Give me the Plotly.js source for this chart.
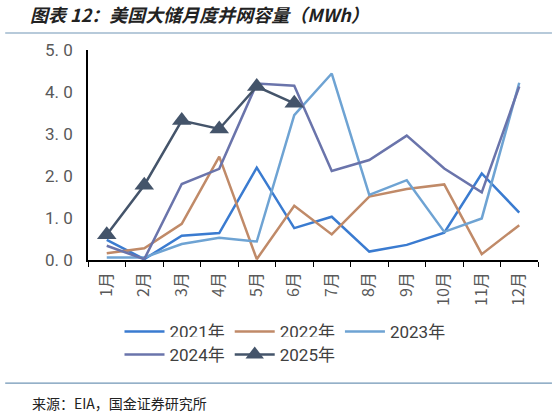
<!DOCTYPE html>
<html>
<head>
<meta charset="utf-8">
<script src="https://cdn.plot.ly/plotly-3.0.1.min.js"></script>
<style>
  body { margin: 0; background: #fff; }
  #chart { width: 555px; height: 415px; }
</style>
</head>
<body>
<div id="chart"></div>
<script>
var months = ['1月', '2月', '3月', '4月', '5月', '6月', '7月', '8月', '9月', '10月', '11月', '12月']
var yTicks = [0, 1, 2, 3, 4, 5]
var yTickText = ['0. 0', '1. 0', '2. 0', '3. 0', '4. 0', '5. 0']

var y2021 = [0.48, 0.02, 0.58, 0.64, 2.20, 0.76, 1.03, 0.20, 0.36, 0.65, 2.06, 1.13]
var y2022 = [0.16, 0.28, 0.86, 2.46, 0.02, 1.29, 0.61, 1.51, 1.69, 1.80, 0.14, 0.83]
var y2023 = [0.06, 0.06, 0.38, 0.53, 0.44, 3.45, 4.44, 1.55, 1.90, 0.67, 0.99, 4.22]
var y2024 = [0.34, 0.02, 1.81, 2.17, 4.20, 4.15, 2.12, 2.38, 2.96, 2.18, 1.61, 4.13]
var y2025 = [0.60, 1.78, 3.32, 3.12, 4.13, 3.73]

// legend is split over two rows: 3 entries, then 2
function lineTrace(name, values, colour, legend) {
  return {
    x: months.slice(0, values.length),
    y: values,
    name: name,
    legend: legend,
    type: 'scatter',
    mode: 'lines',
    line: { color: colour, width: 2.5 }
  }
}

var data = [
  lineTrace('2021年', y2021, '#3a7bd0', 'legend'),
  lineTrace('2022年', y2022, '#c08a68', 'legend'),
  lineTrace('2023年', y2023, '#6ea3d3', 'legend'),
  lineTrace('2024年', y2024, '#6a74ab', 'legend2'),
  {
    x: months.slice(0, y2025.length),
    y: y2025,
    name: '2025年',
    legend: 'legend2',
    type: 'scatter',
    mode: 'lines+markers',
    line: { color: '#44546a', width: 2.5 },
    marker: { symbol: 'triangle-up', size: 17, color: '#44546a' }
  }
]

function legendBox(y) {
  return {
    orientation: 'h',
    x: 0.07,
    xanchor: 'left',
    y: y,
    yanchor: 'top',
    font: { size: 17, color: '#404040' },
    itemwidth: 40,
    tracegroupgap: 0
  }
}

var layout = {
  width: 555,
  height: 415,
  paper_bgcolor: '#ffffff',
  plot_bgcolor: '#ffffff',
  margin: { l: 88, r: 17, t: 50, b: 155, autoexpand: false },
  font: { family: 'Roboto, "Noto Sans CJK SC", sans-serif', color: '#595959' },
  title: {
    text: '图表 12：美国大储月度并网容量（MWh）',
    x: 30 / 555,
    xanchor: 'left',
    y: 1 - 16 / 415,
    yanchor: 'middle',
    font: { family: '"Noto Sans CJK SC", sans-serif', size: 18, color: '#222222', weight: 'bold', style: 'italic' }
  },
  showlegend: true,
  legend: legendBox(-0.257),
  legend2: legendBox(-0.367),
  xaxis: {
    type: 'category',
    range: [-0.5, 11.5],
    showline: true,
    linecolor: '#000000',
    linewidth: 1.5,
    ticks: 'outside',
    tickson: 'boundaries',
    ticklen: 5,
    tickcolor: '#000000',
    tickangle: -90,
    ticklabelstandoff: 4,
    tickfont: { size: 16, color: '#595959', family: '"Noto Sans CJK SC", sans-serif' },
    showgrid: false,
    zeroline: false,
    fixedrange: true
  },
  yaxis: {
    range: [0, 5],
    tickvals: yTicks,
    ticktext: yTickText,
    showline: true,
    linecolor: '#000000',
    linewidth: 1.5,
    ticks: '',
    ticklabelstandoff: 10,
    tickfont: { size: 17, color: '#595959' },
    showgrid: false,
    zeroline: false,
    fixedrange: true
  },
  shapes: [
    { type: 'line', xref: 'paper', yref: 'paper', x0: -0.184, x1: 1.031, y0: 1.081, y1: 1.081,
      line: { color: '#7096b6', width: 1.2 } },
    { type: 'line', xref: 'paper', yref: 'paper', x0: -0.184, x1: 1.031, y0: -0.586, y1: -0.586,
      line: { color: '#7096b6', width: 1.2 } }
  ],
  annotations: [
    {
      text: '来源：EIA，国金证券研究所',
      xref: 'paper', yref: 'paper',
      x: -0.129, y: -0.681,
      xanchor: 'left', yanchor: 'middle',
      showarrow: false,
      font: { family: '"Noto Sans CJK SC", sans-serif', size: 14, color: '#222222' }
    }
  ]
}

Plotly.newPlot('chart', data, layout, { displayModeBar: false })
</script>
</body>
</html>
